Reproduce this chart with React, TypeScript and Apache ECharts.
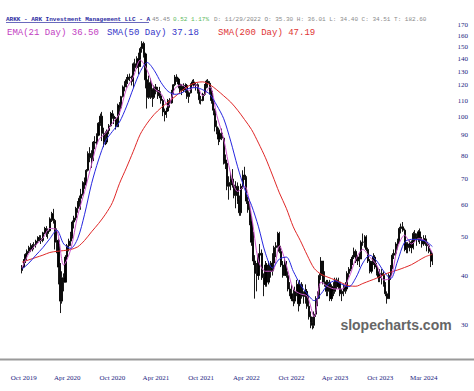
import React, { useEffect, useRef } from 'react';
import * as echarts from 'echarts';

// Weekly bars (week ending dates starting 2019-10-18)
const opens = [
  41.2,42.0,43.8,45.2,46.0,47.0,46.5,47.6,47.8,48.8,
  49.8,49.5,49.0,51.2,52.5,51.0,51.8,55.5,57.2,55.0,
  48.5,49.0,42.0,34.5,39.5,38.5,44.5,47.5,48.8,50.2,
  54.5,55.8,59.0,61.0,62.5,64.0,68.5,67.5,73.5,81.0,
  79.0,78.0,86.5,86.0,90.0,96.5,100.5,91.0,87.0,86.5,
  92.5,95.0,102.0,100.5,99.0,94.5,107.0,105.5,112.5,119.0,
  121.5,124.0,126.0,125.5,123.0,136.0,133.0,140.0,134.0,148.5,
  153.0,144.0,124.0,112.0,122.0,117.0,112.0,119.0,116.0,116.5,
  113.0,110.0,103.0,101.5,103.5,110.0,108.5,116.0,120.5,126.0,
  124.5,121.0,116.5,119.5,117.0,120.0,112.5,115.0,121.0,122.5,
  120.0,120.5,116.0,110.5,110.0,114.0,119.5,123.0,121.5,116.0,
  110.0,104.0,94.5,92.0,88.0,91.0,88.5,78.0,76.5,67.0,
  68.5,70.0,67.5,63.5,67.0,61.5,57.5,67.0,71.5,70.5,
  61.5,58.5,54.5,48.5,43.5,40.5,40.0,45.0,45.5,39.5,
  38.0,42.5,38.5,42.5,41.0,43.0,47.0,47.5,51.0,46.0,
  42.5,40.0,43.0,40.0,37.0,36.0,35.0,34.5,36.5,38.0,
  34.0,38.0,35.5,35.5,36.5,33.5,31.5,30.5,30.0,32.0,
  35.0,35.5,40.0,43.5,38.5,38.5,36.5,38.5,35.0,37.5,
  36.5,39.0,37.5,38.5,36.0,36.5,37.5,37.0,40.5,41.5,
  43.5,44.5,46.0,43.5,44.5,44.0,48.5,48.5,50.0,46.5,
  43.5,41.0,43.0,44.5,42.0,40.5,39.5,40.5,40.0,38.0,
  36.0,35.0,40.0,42.0,45.0,45.5,48.0,49.0,52.5,53.0,
  52.0,46.5,48.0,47.0,48.5,47.0,51.0,49.5,50.0,51.5,
  49.0,48.0,49.5,48.5,47.5,46.0,43.5
];
const highs = [
  42.5,44.0,45.5,46.5,47.5,48.2,48.0,48.5,49.2,50.2,
  50.5,50.5,51.5,53.0,53.2,52.5,56.0,57.8,58.8,55.5,
  52.5,49.5,43.0,41.0,40.5,45.0,48.0,49.5,51.5,55.0,
  56.5,59.5,61.5,63.5,66.0,69.0,70.5,74.0,82.0,84.0,
  82.5,87.0,89.5,91.0,97.0,102.0,103.0,94.0,92.0,93.0,
  96.0,103.0,104.0,102.0,100.0,108.0,109.0,113.0,120.0,123.0,
  126.0,128.0,128.5,127.0,137.0,140.0,142.0,145.0,150.0,155.0,
  154.5,145.0,127.0,127.0,125.0,118.0,120.0,121.0,119.0,119.0,
  116.0,111.0,105.0,105.5,111.0,111.5,117.0,121.0,127.5,128.0,
  125.5,123.0,121.0,121.5,121.5,121.0,116.0,121.5,124.0,124.5,
  122.0,121.5,117.0,113.0,115.0,121.0,124.0,124.5,123.0,118.5,
  111.0,105.0,98.0,94.0,93.0,93.5,89.0,80.5,77.0,71.0,
  72.5,74.0,70.0,69.0,68.5,63.5,68.0,73.5,75.0,71.0,
  63.0,60.5,56.5,51.5,45.0,43.0,45.5,48.0,46.5,40.5,
  43.5,43.0,43.5,43.5,45.5,47.5,48.5,51.5,51.5,47.5,
  43.5,44.5,43.5,41.0,38.5,38.0,37.0,37.5,39.0,38.5,
  39.0,38.5,36.5,38.0,37.0,35.5,32.5,31.5,32.5,35.5,
  36.5,40.5,44.5,43.5,41.0,39.0,39.0,39.0,38.0,38.5,
  39.5,39.5,39.5,38.5,37.0,38.0,38.5,41.0,42.0,44.0,
  45.0,47.0,46.5,45.0,45.5,49.0,51.0,50.5,50.5,47.0,
  44.0,43.5,45.5,45.0,43.0,41.0,41.5,41.5,41.0,38.5,
  36.5,40.5,42.5,45.5,46.5,48.5,49.5,53.0,54.0,54.5,
  52.5,48.5,48.5,49.0,49.0,51.5,52.0,51.0,52.0,52.5,
  50.0,50.5,50.5,49.5,48.0,46.5,45.5
];
const lows = [
  40.5,41.8,43.0,44.5,45.5,45.8,46.0,46.5,47.0,48.2,
  48.8,48.0,48.5,50.8,50.0,49.5,51.5,54.5,54.0,46.5,
  45.5,38.0,32.2,34.0,36.5,38.5,43.5,46.0,47.5,49.5,
  52.5,55.0,57.5,59.5,58.5,63.5,66.0,67.5,73.0,77.0,
  74.5,77.5,83.0,85.0,89.5,95.0,87.0,84.0,85.0,85.5,
  90.5,94.5,99.0,96.0,93.0,94.5,101.0,104.5,112.0,116.0,
  118.5,121.0,123.0,120.0,118.0,130.0,132.0,128.0,133.5,145.0,
  141.0,118.0,105.0,111.0,111.0,106.0,111.0,114.0,111.0,111.5,
  108.0,100.5,97.5,99.5,103.0,105.5,108.0,114.0,119.5,122.5,
  118.0,114.5,113.5,115.5,115.0,111.0,108.5,114.5,120.0,119.0,
  116.5,114.5,108.0,107.5,109.5,113.0,118.0,118.5,114.0,108.0,
  101.0,92.0,90.5,85.0,86.5,87.5,76.0,74.0,65.5,62.0,
  65.5,66.5,62.5,59.0,60.5,56.5,56.5,66.0,69.5,60.5,
  57.5,53.5,47.5,42.5,35.0,36.5,39.0,43.5,39.0,35.5,
  37.5,37.5,38.0,39.5,40.0,41.0,44.5,47.0,45.5,42.0,
  39.5,40.0,39.5,36.5,35.5,34.5,33.5,34.0,35.5,32.5,
  33.5,35.0,34.0,34.0,33.0,31.0,29.5,29.3,29.5,31.5,
  33.5,35.0,39.0,38.0,37.5,35.5,35.5,34.5,34.5,35.5,
  36.0,37.0,37.0,35.5,34.5,35.5,36.0,36.5,39.5,41.0,
  42.5,44.0,43.0,42.5,42.0,44.0,47.5,47.0,46.0,43.0,
  40.5,40.5,42.5,41.5,40.0,38.5,38.5,38.0,37.5,35.5,
  34.0,35.0,39.0,41.5,44.0,44.5,46.5,48.5,51.0,51.5,
  46.0,45.5,45.5,46.0,45.5,46.5,48.5,47.5,48.5,48.0,
  47.0,47.5,47.5,46.0,45.5,42.0,42.5
];
const closes = [
  42.0,43.8,45.2,46.0,47.0,46.5,47.6,47.8,48.8,49.8,
  49.5,49.0,51.2,52.5,51.0,51.8,55.5,57.2,55.0,48.5,
  49.0,42.0,34.5,39.5,38.5,44.5,47.5,48.8,50.2,54.5,
  55.8,59.0,61.0,62.5,64.0,68.5,67.5,73.5,81.0,79.0,
  78.0,86.5,86.0,90.0,96.5,100.5,91.0,87.0,86.5,92.5,
  95.0,102.0,100.5,99.0,94.5,107.0,105.5,112.5,119.0,121.5,
  124.0,126.0,125.5,123.0,136.0,133.0,140.0,134.0,148.5,153.0,
  144.0,124.0,112.0,122.0,117.0,112.0,119.0,116.0,116.5,113.0,
  110.0,103.0,101.5,103.5,110.0,108.5,116.0,120.5,126.0,124.5,
  121.0,116.5,119.5,117.0,120.0,112.5,115.0,121.0,122.5,120.0,
  120.5,116.0,110.5,110.0,114.0,119.5,123.0,121.5,116.0,110.0,
  104.0,94.5,92.0,88.0,91.0,88.5,78.0,76.5,67.0,68.5,
  70.0,67.5,63.5,67.0,61.5,57.5,67.0,71.5,70.5,61.5,
  58.5,54.5,48.5,43.5,40.5,40.0,45.0,45.5,39.5,38.0,
  42.5,38.5,42.5,41.0,43.0,47.0,47.5,51.0,46.0,42.5,
  40.0,43.0,40.0,37.0,36.0,35.0,34.5,36.5,38.0,34.0,
  38.0,35.5,35.5,36.5,33.5,31.5,30.5,30.0,32.0,35.0,
  35.5,40.0,43.5,38.5,38.5,36.5,38.5,35.0,37.5,36.5,
  39.0,37.5,38.5,36.0,36.5,37.5,37.0,40.5,41.5,43.5,
  44.5,46.0,43.5,44.5,44.0,48.5,48.5,50.0,46.5,43.5,
  41.0,43.0,44.5,42.0,40.5,39.5,40.5,40.0,38.0,36.0,
  35.0,40.0,42.0,45.0,45.5,48.0,49.0,52.5,53.0,52.0,
  46.5,48.0,47.0,48.5,47.0,51.0,49.5,50.0,51.5,49.0,
  48.0,49.5,48.5,47.5,46.0,43.5,45.0
];

// Moving averages read every 4 weeks
const maStep = 4;
const ema21 = [
  41.8,45.5,47.8,49.6,52.5,52.0,42.5,46.5,56.5,65.0,
  76.0,87.5,91.0,96.5,102.0,117.5,126.0,139.0,131.0,118.0,
  114.5,106.5,118.0,120.5,116.5,120.5,113.0,119.0,101.0,88.0,
  72.0,65.0,67.0,56.5,43.5,41.0,41.0,47.5,42.5,37.0,
  36.0,35.5,31.5,38.5,37.5,37.0,37.0,39.5,44.0,46.5,
  44.5,42.5,39.0,39.5,47.0,50.5,48.0,49.5,48.8,45.5
];
const sma50 = [
  41.5,43.0,45.0,47.0,49.5,52.0,48.0,46.8,49.5,57.0,
  68.0,78.0,87.0,92.0,97.0,106.0,118.0,130.0,137.0,131.0,
  122.0,116.0,114.0,115.0,118.0,118.5,117.0,114.0,107.0,99.0,
  87.0,75.0,66.0,60.0,53.0,45.5,41.8,44.0,44.5,41.0,
  38.0,36.0,34.6,36.0,38.0,38.8,38.0,37.5,39.5,43.0,
  45.0,43.5,41.0,39.3,43.5,48.5,49.3,49.2,48.8,47.3
];
const sma200 = [
  43.2,43.8,44.4,45.0,45.7,46.0,46.2,46.5,47.2,49.0,
  51.5,54.0,57.0,61.0,68.0,74.5,82.0,90.5,96.5,101.5,
  105.5,109.0,112.5,116.5,119.8,122.0,122.5,120.5,117.0,113.0,
  109.0,104.0,98.5,93.0,86.0,79.0,71.5,64.5,59.0,53.0,
  49.0,45.0,41.7,40.3,39.6,39.0,38.3,37.7,37.6,38.2,
  38.8,39.4,40.2,40.8,41.3,41.9,42.6,43.6,44.6,45.2
];

const yTicks = [30, 40, 50, 60, 70, 80, 90, 100, 110, 120, 130, 140, 150, 160, 170];
const xTickIdx = [1, 26, 52, 77, 103, 129, 155, 180, 206, 231];
const xTickLabels = ['Oct 2019', 'Apr 2020', 'Oct 2020', 'Apr 2021', 'Oct 2021', 'Apr 2022', 'Oct 2022', 'Apr 2023', 'Oct 2023', 'Mar 2024'];

const titleMain = 'ARKK - ARK Investment Management LLC - A';
const lastPrice = '45.45';
const lastChange = '0.52 1.17%';
const quoteInfo = 'D: 11/29/2022 O: 35.30 H: 36.01 L: 34.40 C: 34.51 T: 182.60';
const legendItems = [
  { text: 'EMA(21 Day) 36.50', color: '#c23cc2' },
  { text: 'SMA(50 Day) 37.18', color: '#3434c8' },
  { text: 'SMA(200 Day) 47.19', color: '#e03434' },
];

export default function App() {
  const ref = useRef<HTMLDivElement>(null);
  useEffect(() => {
    const el = ref.current!;
    const chart = echarts.init(el, null, { renderer: 'svg' });
    const cats = opens.map((_, i) => {
      const d = new Date(Date.UTC(2019, 9, 18 + 7 * i));
      return d.toISOString().slice(0, 10);
    });
    const candle = opens.map((o, i) => [o, closes[i], lows[i], highs[i]]);
    const maPts = (arr: number[]) => arr.map((v, k) => [k * maStep, v]);
    const mono = '"Liberation Mono", "DejaVu Sans Mono", monospace';
    const serif = '"Liberation Serif", "DejaVu Serif", serif';

    chart.setOption({
      animation: false,
      grid: { left: 22, right: 41.6, top: 10, bottom: 32, outerBoundsMode: 'none' },
      xAxis: {
        type: 'category',
        data: cats,
        boundaryGap: false,
        axisLine: { show: false },
        axisTick: { show: false },
        splitLine: { show: false },
        axisLabel: {
          interval: (i: number) => xTickIdx.includes(i),
          formatter: (_v: string, i: number) => {
            const k = xTickIdx.indexOf(i);
            return k >= 0 ? xTickLabels[k] : '';
          },
          color: '#1c1c80',
          fontFamily: serif,
          fontSize: 7,
          margin: 15,
          showMinLabel: true,
          showMaxLabel: true,
          hideOverlap: false,
        },
      },
      yAxis: {
        type: 'log',
        logBase: 10,
        min: 24.69,
        max: 185.6,
        show: false,
      },
      series: [
        {
          type: 'candlestick',
          data: candle,
          barWidth: 1.6,
          itemStyle: { color: '#000', color0: '#000', borderColor: '#000', borderColor0: '#000', borderWidth: 0.9 },
          z: 2,
        },
        {
          type: 'line', data: maPts(sma200), showSymbol: false, smooth: 0.3,
          lineStyle: { color: '#e02828', width: 1 }, z: 3,
        },
        {
          type: 'line', data: maPts(ema21), showSymbol: false, smooth: 0.3,
          lineStyle: { color: '#cc55cc', width: 1 }, z: 3,
        },
        {
          type: 'line', data: maPts(sma50), showSymbol: false, smooth: 0.3,
          lineStyle: { color: '#2626e0', width: 1 }, z: 4,
        },
      ],
    });

    const graphics: any[] = [];
    yTicks.forEach((v) => {
      const y = chart.convertToPixel({ yAxisIndex: 0 }, v) as number;
      graphics.push({
        type: 'text', x: 468, y,
        style: { text: String(v), fill: '#1c1c80', fontSize: 7, fontFamily: serif, textAlign: 'right', textVerticalAlign: 'middle' },
      });
    });
    graphics.push({ type: 'line', shape: { x1: 0, y1: 359.5, x2: 474, y2: 359.5 }, style: { stroke: '#9a9a9a', lineWidth: 2 } });
    graphics.push({
      type: 'text', x: 6, y: 19,
      style: { text: titleMain, fill: '#2a2aa0', fontSize: 6, fontFamily: mono, fontWeight: 'bold', textVerticalAlign: 'middle' },
    });
    graphics.push({ type: 'line', shape: { x1: 6, y1: 22.5, x2: 149, y2: 22.5 }, style: { stroke: '#2a2aa0', lineWidth: 0.7 } });
    graphics.push({
      type: 'text', x: 152, y: 19,
      style: { text: lastPrice, fill: '#8a8a8a', fontSize: 6, fontFamily: mono, textVerticalAlign: 'middle' },
    });
    graphics.push({
      type: 'text', x: 173, y: 19,
      style: { text: lastChange, fill: '#5cb85c', fontSize: 6, fontFamily: mono, textVerticalAlign: 'middle' },
    });
    graphics.push({
      type: 'text', x: 214, y: 19,
      style: { text: quoteInfo, fill: '#8a8a8a', fontSize: 6, fontFamily: mono, textVerticalAlign: 'middle' },
    });
    const legendX = [7, 107, 218];
    legendItems.forEach((it, k) => {
      graphics.push({
        type: 'text', x: legendX[k], y: 33,
        style: { text: it.text, fill: it.color, fontSize: 9, fontFamily: mono, textVerticalAlign: 'middle' },
      });
    });
    graphics.push({
      type: 'text', x: 396, y: 325,
      style: { text: 'slopecharts.com', fill: '#666666', fontSize: 14, fontWeight: 'bold', fontFamily: '"Liberation Sans", Arial, sans-serif', textAlign: 'center', textVerticalAlign: 'middle' },
    });
    chart.setOption({ graphic: graphics });

    return () => chart.dispose();
  }, []);
  return <div ref={ref} style={{ position: 'fixed', left: 0, top: 0, width: 474, height: 391, background: '#fff' }} />;
}
